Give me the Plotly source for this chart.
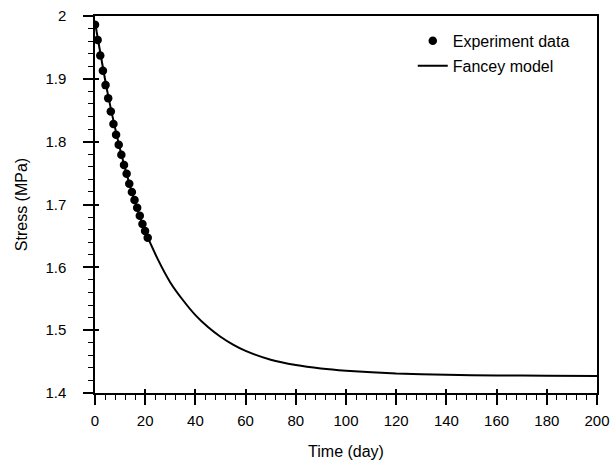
import plotly.graph_objects as go

# Experiment data
exp_time = [0, 1.05, 2.1, 3.15, 4.2, 5.25, 6.3, 7.35, 8.4, 9.45, 10.5,
            11.55, 12.6, 13.65, 14.7, 15.75, 16.8, 17.85, 18.9, 19.95, 21.0]
exp_stress = [1.986, 1.962, 1.937, 1.913, 1.890, 1.869, 1.848, 1.828, 1.811, 1.795, 1.779,
              1.763, 1.749, 1.733, 1.720, 1.707, 1.695, 1.682, 1.669, 1.658, 1.647]

# Fancey model curve
model_time = [0, 5, 10, 15, 20, 25, 30, 35, 40, 45, 50, 55, 60, 70, 80, 90, 100,
              120, 140, 160, 180, 200]
model_stress = [1.990, 1.878, 1.788, 1.716, 1.658, 1.613, 1.576, 1.548, 1.524, 1.505,
                1.4895, 1.477, 1.467, 1.453, 1.4445, 1.439, 1.4355, 1.431, 1.429, 1.428,
                1.4275, 1.427]

x_ticks = list(range(0, 201, 20))
y_ticks = [1.4, 1.5, 1.6, 1.7, 1.8, 1.9, 2.0]
y_tick_text = ["1.4", "1.5", "1.6", "1.7", "1.8", "1.9", "2"]

fig = go.Figure()
fig.add_trace(go.Scatter(
    x=exp_time, y=exp_stress, mode="markers", name="Experiment data",
    marker=dict(color="black", size=8.5), legend="legend", showlegend=True))
fig.add_trace(go.Scatter(
    x=model_time, y=model_stress, mode="lines", name="Fancey model",
    line=dict(color="black", width=2, shape="spline", smoothing=0.6),
    legend="legend2", showlegend=True))
# helper traces to show inner parts of major ticks
fig.add_trace(go.Scatter(x=[], y=[], xaxis="x2", yaxis="y", showlegend=False, hoverinfo="skip"))
fig.add_trace(go.Scatter(x=[], y=[], xaxis="x", yaxis="y2", showlegend=False, hoverinfo="skip"))

axis_common = dict(showgrid=False, zeroline=False, showline=True, linecolor="black",
                   linewidth=1.5, mirror=True, ticks="outside", ticklen=10, tickwidth=1.5,
                   tickcolor="black", automargin=False)

fig.update_layout(
    width=615, height=470,
    margin=dict(l=95, r=18, t=16, b=77, autoexpand=False),
    showlegend=True,
    paper_bgcolor="white", plot_bgcolor="white",
    font=dict(family="Liberation Sans, Arial, sans-serif", size=15, color="black"),
    xaxis=dict(range=[0, 200], tickvals=x_ticks, ticklabelstandoff=3,
               minor=dict(dtick=4, tick0=0, ticks="outside", ticklen=5, tickwidth=1.2,
                          tickcolor="black", showgrid=False),
               title=dict(text="Time (day)", font=dict(size=16), standoff=18),
               **axis_common),
    yaxis=dict(range=[1.4, 2.0], tickvals=y_ticks, ticktext=y_tick_text, ticklabelstandoff=14,
               minor=dict(dtick=0.02, tick0=1.4, ticks="outside", ticklen=5, tickwidth=1.2,
                          tickcolor="black", showgrid=False),
               title=dict(text="Stress (MPa)", font=dict(size=16), standoff=14),
               **axis_common),
    xaxis2=dict(range=[0, 200], tickvals=x_ticks, overlaying="x", anchor="y", side="bottom",
                ticks="inside", ticklen=4, tickwidth=1.5, tickcolor="black", automargin=False,
                showticklabels=False, showline=False, showgrid=False, zeroline=False),
    yaxis2=dict(range=[1.4, 2.0], tickvals=y_ticks, overlaying="y", anchor="x", side="left",
                ticks="inside", ticklen=4, tickwidth=1.5, tickcolor="black", automargin=False,
                showticklabels=False, showline=False, showgrid=False, zeroline=False),
    legend=dict(x=0.633, y=0.934, xanchor="left", yanchor="middle",
                bgcolor="rgba(0,0,0,0)", font=dict(size=16)),
    legend2=dict(x=0.633, y=0.868, xanchor="left", yanchor="middle",
                 bgcolor="rgba(0,0,0,0)", font=dict(size=16)),
)

fig.write_html("out.html", config={"displayModeBar": False},
               post_script="document.body.style.margin='0';")
